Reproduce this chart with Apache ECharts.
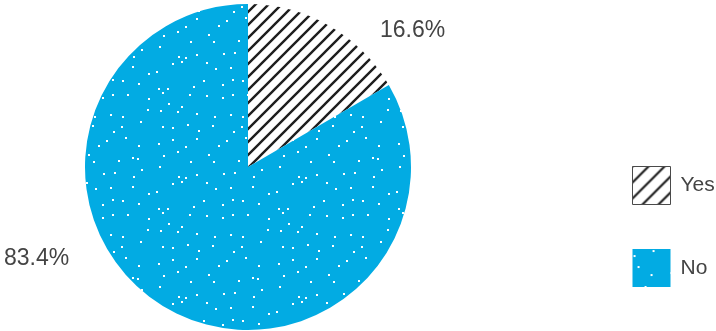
<!DOCTYPE html>
<html>
<head>
<meta charset="utf-8">
<script src="https://cdn.jsdelivr.net/npm/echarts@6/dist/echarts.min.js"></script>
<style>
  html, body { margin: 0; padding: 0; background: #fff; }
  #chart { width: 716px; height: 331px; }
</style>
</head>
<body>
<div id="chart"></div>
<script>
// Survey answers and their shares (percent)
const categories = ['Yes', 'No'];
const shares = [16.6, 83.4];

// Black diagonal hatching on white
function hatchPattern(s, w) {
  const c = document.createElement('canvas');
  c.width = s; c.height = s;
  const g = c.getContext('2d');
  g.fillStyle = '#ffffff';
  g.fillRect(0, 0, s, s);
  g.strokeStyle = '#1e1e1e';
  g.lineWidth = w;
  g.beginPath();
  g.moveTo(-3, s + 3); g.lineTo(s + 3, -3);
  g.moveTo(-3, 3); g.lineTo(3, -3);
  g.moveTo(s - 3, s + 3); g.lineTo(s + 3, s - 3);
  g.stroke();
  return c;
}

// Blue fill sprinkled with small white dots, spread on a jittered grid
function dotPattern() {
  const s = 120, cell = 15;
  const c = document.createElement('canvas');
  c.width = s; c.height = s;
  const g = c.getContext('2d');
  g.fillStyle = '#02abe3';
  g.fillRect(0, 0, s, s);
  g.fillStyle = '#ffffff';
  let seed = 11;
  const next = () => { seed = (seed * 16807) % 2147483647; return seed / 2147483647; };
  for (let gy = 0; gy < s / cell; gy++) {
    for (let gx = 0; gx < s / cell; gx++) {
      const x = Math.floor(gx * cell + 1 + next() * (cell - 2));
      const y = Math.floor(gy * cell + 1 + next() * (cell - 2));
      g.fillRect(x, y, 2, 2);
    }
  }
  return c;
}

const fills = [
  { image: hatchPattern(13, 2.4), repeat: 'repeat' },
  { image: dotPattern(), repeat: 'repeat' }
];
const legendHatch = { image: hatchPattern(16, 2.2), repeat: 'repeat' };

const labelSpots = [
  { x: 380, y: 31 },
  { x: 4, y: 259 }
];

const textFont = '"Liberation Sans", Arial, sans-serif';

const chart = echarts.init(document.getElementById('chart'), null, { renderer: 'canvas' });

chart.setOption({
  animation: false,
  backgroundColor: '#ffffff',
  legend: {
    orient: 'vertical',
    left: 632,
    top: 166,
    padding: 0,
    itemWidth: 38,
    itemHeight: 38,
    itemGap: 44,
    icon: 'rect',
    selectedMode: false,
    textStyle: {
      fontFamily: textFont,
      fontSize: 21,
      color: '#444444',
      padding: [0, 0, 0, 5]
    },
    data: [
      { name: categories[0], itemStyle: { color: legendHatch, borderColor: '#4a4a4a', borderWidth: 1 } },
      { name: categories[1] }
    ]
  },
  series: [{
    type: 'pie',
    center: [248, 167],
    radius: 163,
    startAngle: 90,
    clockwise: true,
    silent: true,
    itemStyle: { borderWidth: 0 },
    label: {
      show: true,
      position: 'outside',
      formatter: p => p.value.toFixed(1) + '%',
      fontFamily: textFont,
      fontSize: 23,
      color: '#444444'
    },
    labelLine: { show: false },
    labelLayout: function (params) {
      const spot = labelSpots[params.dataIndex];
      return { x: spot.x, y: spot.y, align: 'left', verticalAlign: 'middle' };
    },
    data: categories.map((name, i) => ({
      name: name,
      value: shares[i],
      itemStyle: { color: fills[i] }
    }))
  }]
});
</script>
</body>
</html>
